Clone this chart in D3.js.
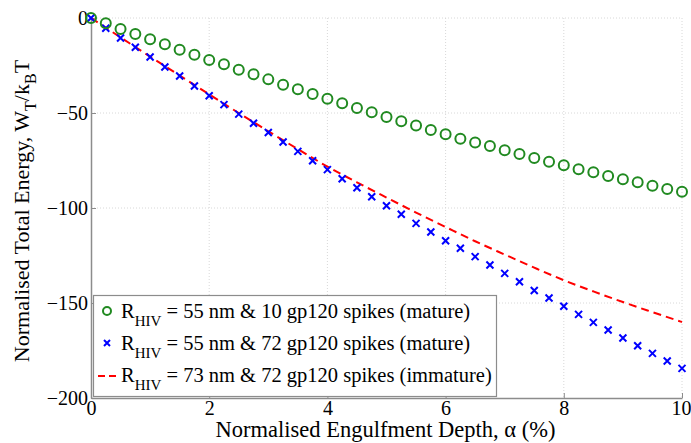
<!DOCTYPE html>
<html>
<head>
<meta charset="utf-8">
<script src="https://cdn.jsdelivr.net/npm/d3@7"></script>
<style>
    body { margin: 0; background: #fff; }
    svg text { font-family: "Liberation Serif", "Times New Roman", Times, "DejaVu Serif", serif; fill: #000; }
</style>
</head>
<body>
<svg id="mySVG" width="691" height="443"></svg>
<script>
// alpha values (%) for the sampled curves
let alphaPts = [0, 0.25, 0.5, 0.75, 1, 1.25, 1.5, 1.75, 2, 2.25, 2.5, 2.75, 3, 3.25, 3.5, 3.75,
    4, 4.25, 4.5, 4.75, 5, 5.25, 5.5, 5.75, 6, 6.25, 6.5, 6.75, 7, 7.25, 7.5, 7.75,
    8, 8.25, 8.5, 8.75, 9, 9.25, 9.5, 9.75, 10];

// R = 55 nm, 10 spikes (green circles)
let energy10 = [0, -2.8, -5.8, -8.4, -11.2, -13.8, -16.7, -19.3, -22.1, -24.4, -27.2, -29.6,
    -32.3, -35.1, -37.5, -40, -42.5, -44.9, -47.4, -49.6, -52.1, -54.4, -56.6, -58.9,
    -61.2, -63.5, -65.5, -67.4, -69.6, -71.6, -73.7, -75.6, -77.5, -79.6, -81.2, -83.2,
    -84.9, -86.5, -88.3, -90, -91.4];

// R = 55 nm, 72 spikes (blue crosses)
let energy72 = [0, -5.4, -10.5, -15.4, -20.5, -25.8, -30.5, -35.8, -40.9, -45.6, -50.6, -55.4,
    -60.3, -65.3, -70.2, -75.1, -79.8, -84.6, -89.3, -94.1, -98.8, -103.3, -108.1, -112.6,
    -117.2, -121.2, -125.6, -130, -134.4, -138.8, -143.4, -147.4, -151.7, -156, -160.2,
    -164.2, -168.4, -172.5, -176.5, -180.5, -184.4];

// R = 73 nm, 72 spikes, immature (red dashed)
let alphaLine = [0, 0.5, 1, 1.5, 2, 2.5, 3, 3.5, 4, 4.5, 5, 5.5, 6, 6.5, 7, 7.5, 8, 8.5, 9, 9.5, 10];
let energyImm = [0, -10.2, -20.3, -30.3, -40.2, -50, -59.6, -69, -78.2, -86.5, -94.5, -102.4,
    -110, -117.5, -124.5, -131.4, -138, -143.9, -149.5, -154.8, -160];

let xTicks = [0, 2, 4, 6, 8, 10];
let yTicks = [0, -50, -100, -150, -200];

let legendLabels = [
    " = 55 nm & 10 gp120 spikes (mature)",
    " = 55 nm & 72 gp120 spikes (mature)",
    " = 73 nm & 72 gp120 spikes (immature)"
];

let green = "#218a21", blue = "#0000ff", red = "#ff0000";
let serif = "'Liberation Serif', 'Times New Roman', Times, 'DejaVu Serif', serif";

function main() {
    let svg = d3.select("#mySVG");
    let left = 91, right = 682, top = 18, bottom = 398;

    let x = d3.scaleLinear().domain([0, 10]).range([left, right]);
    let y = d3.scaleLinear().domain([-200, 0]).range([bottom, top]);

    // dotted grid
    svg.append("g").selectAll("line")
        .data(xTicks.slice(1))
        .join("line")
        .attr("x1", d => x(d)).attr("x2", d => x(d))
        .attr("y1", top).attr("y2", bottom)
        .style("stroke", "#d8d8d8").style("stroke-width", 1)
        .style("stroke-dasharray", "1,2");
    svg.append("g").selectAll("line")
        .data(yTicks.slice(0, -1))
        .join("line")
        .attr("x1", left).attr("x2", right)
        .attr("y1", d => y(d)).attr("y2", d => y(d))
        .style("stroke", "#d8d8d8").style("stroke-width", 1)
        .style("stroke-dasharray", "1,2");

    // axes
    let xAxis = svg.append("g")
        .attr("transform", `translate(0,${bottom})`)
        .call(d3.axisBottom(x).tickValues(xTicks).tickSizeInner(-5).tickSizeOuter(0).tickPadding(3)
            .tickFormat(d3.format("d")));
    let yAxis = svg.append("g")
        .attr("transform", `translate(${left},0)`)
        .call(d3.axisLeft(y).tickValues(yTicks).tickSizeInner(-5).tickSizeOuter(0).tickPadding(3)
            .tickFormat(d => d < 0 ? "\u2212" + Math.abs(d) : d));
    [xAxis, yAxis].forEach(a => {
        a.attr("font-family", null);
        a.select(".domain").style("stroke", "#8c8c8c").style("stroke-width", 1.5);
        a.selectAll(".tick line").style("stroke", "#8c8c8c");
        a.selectAll("text").style("font-size", "20px")
            .style("font-family", serif).style("fill", "#000");
    });
    xAxis.selectAll("text").attr("dy", "0.68em");
    // last x label sits against the right edge, as in the original
    xAxis.selectAll(".tick text").filter(d => d === 10).attr("text-anchor", "end").attr("dx", 9);

    // red dashed curve
    let line = d3.line()
        .x(d => x(d[0]))
        .y(d => y(d[1]))
        .curve(d3.curveMonotoneX);
    svg.append("path")
        .datum(alphaLine.map((a, i) => [a, energyImm[i]]))
        .attr("d", line)
        .style("fill", "none")
        .style("stroke", red).style("stroke-width", 2)
        .style("stroke-dasharray", "8,5");

    // blue crosses
    let cs = 3.5;
    svg.append("g").selectAll("path")
        .data(alphaPts.map((a, i) => [a, energy72[i]]))
        .join("path")
        .attr("d", d => `M${x(d[0]) - cs},${y(d[1]) - cs}L${x(d[0]) + cs},${y(d[1]) + cs}` +
            `M${x(d[0]) - cs},${y(d[1]) + cs}L${x(d[0]) + cs},${y(d[1]) - cs}`)
        .style("stroke", blue).style("stroke-width", 2).style("fill", "none");

    // green circles
    svg.append("g").selectAll("circle")
        .data(alphaPts.map((a, i) => [a, energy10[i]]))
        .join("circle")
        .attr("cx", d => x(d[0]))
        .attr("cy", d => y(d[1]))
        .attr("r", 5)
        .style("fill", "none").style("stroke", green).style("stroke-width", 2);

    // legend
    let lg = svg.append("g");
    lg.append("rect")
        .attr("x", 93.5).attr("y", 295.5).attr("width", 403).attr("height", 101)
        .style("fill", "#fff").style("stroke", "#8c8c8c").style("stroke-width", 1.2);
    let rowY = [318, 350, 382];
    lg.append("circle").attr("cx", 107).attr("cy", rowY[0] - 7).attr("r", 4)
        .style("fill", "none").style("stroke", green).style("stroke-width", 2);
    lg.append("path")
        .attr("d", `M104,${rowY[1] - 10}L110,${rowY[1] - 4}M104,${rowY[1] - 4}L110,${rowY[1] - 10}`)
        .style("stroke", blue).style("stroke-width", 2);
    lg.append("line").attr("x1", 98).attr("x2", 120)
        .attr("y1", rowY[2] - 6).attr("y2", rowY[2] - 6)
        .style("stroke", red).style("stroke-width", 2).style("stroke-dasharray", "7,4");
    legendLabels.forEach((lab, i) => {
        let t = lg.append("text").attr("x", 121).attr("y", rowY[i])
            .style("font-size", "20.5px").style("font-family", serif);
        t.append("tspan").text("R");
        t.append("tspan").text("HIV").attr("dy", 8).style("font-size", "15px");
        t.append("tspan").text(lab).attr("dy", -8);
    });

    // axis titles
    svg.append("text")
        .attr("x", (left + right) / 2 - 1).attr("y", 437)
        .attr("text-anchor", "middle")
        .style("font-size", "22.5px").style("font-family", serif)
        .text("Normalised Engulfment Depth, \u03b1 (%)");

    let yl = svg.append("text")
        .attr("transform", `translate(29,211) rotate(-90)`)
        .attr("text-anchor", "middle")
        .style("font-size", "22px").style("font-family", serif);
    yl.append("tspan").text("Normalised Total Energy, W");
    yl.append("tspan").text("T").attr("dy", 7).style("font-size", "16px");
    yl.append("tspan").text("/k").attr("dy", -7);
    yl.append("tspan").text("B").attr("dy", 7).style("font-size", "16px");
    yl.append("tspan").text("T").attr("dy", -7);
}

main();
</script>
</body>
</html>
